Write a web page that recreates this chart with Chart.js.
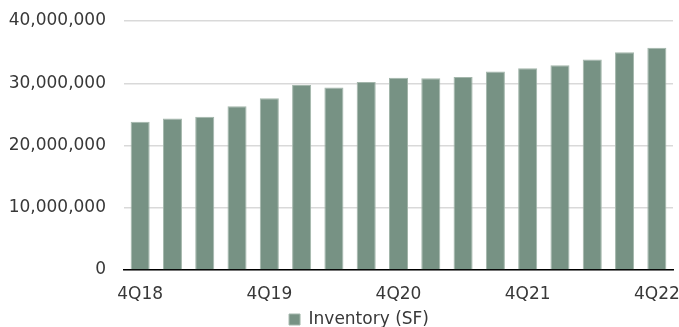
<!DOCTYPE html>
<html>
<head>
<meta charset="utf-8">
<script src="https://cdn.jsdelivr.net/npm/chart.js@4/dist/chart.umd.min.js"></script>
<style>
  html, body { margin: 0; padding: 0; background: #fff; overflow: hidden; }
  #wrap { width: 679px; height: 327px; position: relative; }
</style>
</head>
<body>
<div id="wrap"><canvas id="inventoryChart"></canvas></div>
<script>
// Quarterly inventory, square feet
const quarters = ['4Q18', '1Q19', '2Q19', '3Q19', '4Q19', '1Q20', '2Q20', '3Q20', '4Q20',
                  '1Q21', '2Q21', '3Q21', '4Q21', '1Q22', '2Q22', '3Q22', '4Q22'];
const inventorySF = [23800000, 24350000, 24600000, 26300000, 27600000, 29700000, 29300000, 30200000, 30900000,
                     30800000, 31000000, 31900000, 32400000, 32900000, 33800000, 35000000, 35700000];
const shownQuarters = ['4Q18', '4Q19', '4Q20', '4Q21', '4Q22'];
const yTicks = [0, 10000000, 20000000, 30000000, 40000000];

const textColor = '#383838';
const font = { family: 'DejaVu Sans', size: 17 };

// move the legend a bit right, like the original
const legendShift = {
  id: 'legendShift',
  afterLayout(chart) {
    const lg = chart.legend;
    if (!lg) return;
    lg.left += 18;
    lg.right += 18;
  }
};

new Chart(document.getElementById('inventoryChart'), {
  type: 'bar',
  data: {
    labels: quarters,
    datasets: [{
      label: 'Inventory (SF)',
      data: inventorySF,
      backgroundColor: '#779284',
      borderColor: '#a3b6ab',
      borderWidth: 1,
      categoryPercentage: 1,
      barPercentage: 0.59
    }]
  },
  options: {
    responsive: true,
    maintainAspectRatio: false,
    animation: false,
    layout: { padding: { left: 9, right: 6, top: 21, bottom: -11 } },
    plugins: {
      legend: {
        position: 'bottom',
        labels: { color: textColor, font: font, boxWidth: 11, boxHeight: 11, padding: 4 }
      },
      tooltip: { enabled: false }
    },
    scales: {
      x: {
        grid: { display: false },
        border: { color: '#000', width: 1.5 },
        afterFit: (axis) => {
          axis.height = 37;
          axis.paddingLeft = 0;
          axis.paddingRight = 0;
        },
        ticks: {
          color: textColor,
          font: font,
          autoSkip: false,
          maxRotation: 0,
          padding: 6,
          callback: (v, i) => shownQuarters.includes(quarters[i]) ? quarters[i] : ''
        }
      },
      y: {
        min: 0,
        max: 40000000,
        afterBuildTicks: (axis) => { axis.ticks = yTicks.map(v => ({ value: v })); },
        afterFit: (axis) => {
          axis.width = 115;
          axis.paddingTop = 0;
          axis.paddingBottom = 0;
        },
        grid: { color: '#d9d9d9', lineWidth: 1.5, drawTicks: false },
        border: { display: false },
        ticks: {
          color: textColor,
          font: font,
          padding: 18,
          callback: (v) => v.toLocaleString('en-US')
        }
      }
    }
  },
  plugins: [legendShift]
});
</script>
</body>
</html>
